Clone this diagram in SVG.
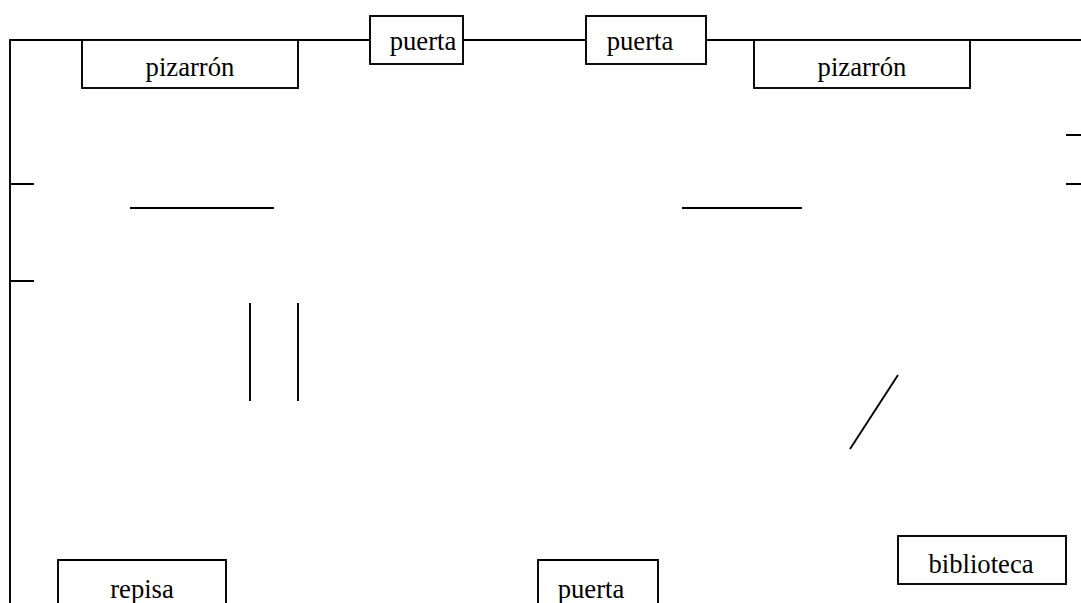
<svg xmlns="http://www.w3.org/2000/svg" width="1081" height="603" viewBox="0 0 1081 603">
<style>
.l{stroke:#000;stroke-width:1.9;fill:none}
.b{stroke:#000;stroke-width:1.9;fill:#fff}
text{font-family:"Liberation Serif","Times New Roman",serif;font-size:26.67px;fill:#000;text-anchor:middle}
</style>
<rect width="1081" height="603" fill="#fff"/>
<g id="connectors">
<path class="l" d="M1081 40H10V603M10 184H34M10 281H34M1066 135H1081M1066 184H1081M130 208H274M682 208H802M250 303V401M298 303V401M898 375L850 449"/>
</g>
<g id="pizarron1"><rect class="b" x="82" y="40" width="216" height="48"/><text x="190" y="76">pizarrón</text></g>
<g id="puerta1"><rect class="b" x="370" y="16" width="93" height="48"/><text x="423" y="50">puerta</text></g>
<g id="puerta2"><rect class="b" x="586" y="16" width="120" height="48"/><text x="640" y="50">puerta</text></g>
<g id="pizarron2"><rect class="b" x="754" y="40" width="216" height="48"/><text x="862" y="76">pizarrón</text></g>
<g id="repisa"><path class="b" d="M58 604V560H226V604"/><text x="142" y="598">repisa</text></g>
<g id="puerta3"><path class="b" d="M538 604V560H658V604"/><text x="591" y="598">puerta</text></g>
<g id="biblioteca"><rect class="b" x="898" y="536" width="168" height="48"/><text x="981" y="573">biblioteca</text></g>
</svg>
